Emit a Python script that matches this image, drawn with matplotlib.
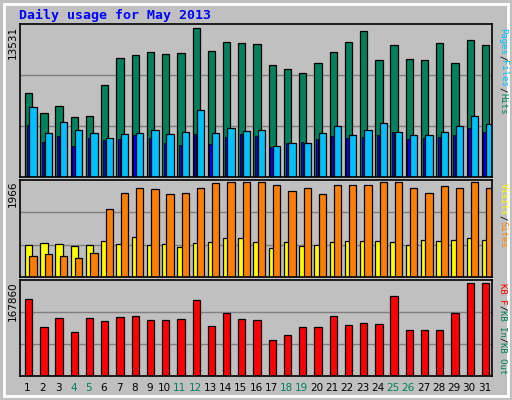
import matplotlib
matplotlib.use("Agg")
import matplotlib.pyplot as plt
import numpy as np

days = np.arange(1, 32)
weekend = [4, 5, 11, 12, 18, 19, 25, 26]

hits = [7640, 5800, 6443, 5431, 5523, 8376, 10862, 11138, 11414, 11230, 11322, 13531,
        11506, 12334, 12242, 12150, 10217, 9849, 9481, 10401, 11414, 12334, 13255, 10678,
        12058, 10770, 10678, 12242, 10401, 12518, 12058]
files = [6351, 4050, 4970, 4326, 4050, 3590, 3958, 4050, 4326, 3958, 4142, 6075,
         4050, 4418, 4234, 4326, 2854, 3130, 3130, 4050, 4602, 3866, 4326, 4878,
         4142, 3866, 3866, 4142, 4602, 5523, 4786]
pages = [4694, 3222, 3774, 2854, 3590, 3406, 3498, 3866, 3590, 3130, 2946, 3958,
         3038, 3682, 3958, 3774, 2762, 3130, 3222, 3498, 3774, 3590, 3682, 3866,
         4142, 3498, 3590, 3682, 3866, 4418, 4142]
sites = [423, 465, 423, 381, 486, 1395, 1712, 1818, 1797, 1691, 1712, 1818,
         1924, 1945, 1945, 1945, 1881, 1755, 1818, 1691, 1881, 1881, 1881, 1945,
         1945, 1818, 1712, 1860, 1818, 1945, 1818]
visits = [655, 698, 677, 634, 655, 740, 677, 824, 655, 677, 613, 698,
          719, 803, 803, 719, 592, 719, 634, 655, 719, 740, 740, 740,
          719, 655, 761, 740, 761, 803, 761]
kbytes = [135400, 86640, 102900, 77600, 102900, 97470, 104700, 106500, 99280, 99280,
          101100, 133600, 88450, 111900, 101100, 99280, 63180, 72200, 86640, 86640,
          106500, 90250, 93860, 92060, 140800, 81230, 81230, 81230, 111900, 164300, 164300]

BG = "#C0C0C0"
MONO = "DejaVu Sans Mono"
W, H = 512, 400

fig = plt.figure(figsize=(5.12, 4.0), dpi=100)
fig.patch.set_facecolor(BG)


def pax(x0, y0, x1, y1):
    return fig.add_axes([x0 / W, 1 - y1 / H, (x1 - x0) / W, (y1 - y0) / H])


# white inner frame
frame = pax(4, 4, 508, 396)
frame.set_facecolor(BG)
frame.set_xticks([]); frame.set_yticks([])
for s in frame.spines.values():
    s.set_color("white"); s.set_linewidth(2)
frame.set_zorder(-5)

fig.text(19 / W, 1 - 15 / H, "Daily usage for May 2013", color="#0000FF",
         fontsize=9.5, family=MONO, fontweight="bold", va="center")

panels = [(24, 177), (180, 277), (280, 376)]
axes = []
for y0, y1 in panels:
    ax = pax(20, y0, 492, y1)
    ax.set_facecolor(BG)
    ax.set_xlim(0.5, 31.5)
    ax.set_xticks([])
    ax.set_yticks([])
    for s in ax.spines.values():
        s.set_linewidth(1.2)
    axes.append(ax)

ek = dict(edgecolor="black", linewidth=0.9, align="edge")


def max_label(ax, txt):
    ax.text(-0.015, 0.99, txt, transform=ax.transAxes, rotation=90, ha="center",
            va="top", fontsize=7.5, family="DejaVu Sans")


# panel 1: hits / files / pages
ax = axes[0]
top = max(hits) * 1.03
ax.set_ylim(0, top)
for g in (top / 3, 2 * top / 3):
    ax.axhline(g, color="#808080", lw=1, zorder=0)
ax.bar(days - 0.17, hits, width=0.48, color="#00805C", **ek)
ax.bar(days - 0.06, pages, width=0.15, color="#0000FF", edgecolor="black", linewidth=0.6, align="edge")
ax.bar(days + 0.12, files, width=0.48, color="#00C0FF", **ek)
max_label(ax, "13531")

# panel 2: sites / visits
ax = axes[1]
top = max(sites) * 1.02
ax.set_ylim(0, top)
for g in (top / 3, 2 * top / 3):
    ax.axhline(g, color="#808080", lw=1, zorder=0)
ax.bar(days - 0.17, visits, width=0.48, color="#FFFF00", **ek)
ax.bar(days + 0.12, sites, width=0.48, color="#FF8000", **ek)
max_label(ax, "1966")

# panel 3: kbytes
ax = axes[2]
top = max(kbytes) * 1.03
ax.set_ylim(0, top)
for g in (top / 3, 2 * top / 3):
    ax.axhline(g, color="#808080", lw=1, zorder=0)
ax.bar(days - 0.17, kbytes, width=0.48, color="#FF0000", **ek)
max_label(ax, "167860")

# day labels
for d in days:
    ax.text(d, -0.12, str(d), transform=ax.get_xaxis_transform(), ha="center",
            va="center", fontsize=7.5, family="DejaVu Sans",
            color="#00805C" if d in weekend else "black")

# right side legends, rotated
def side_label(y_start, parts):
    y = y_start
    for txt, col in parts:
        fig.text(503 / W, 1 - y / H, txt, rotation=-90, color=col, fontsize=6.5,
                 family=MONO, ha="center", va="top")
        y += len(txt) * 5.4


side_label(28, [("Pages", "#00C0FF"), ("/", "black"), ("Files", "#00C0FF"),
                ("/", "black"), ("Hits", "#00805C")])
side_label(183, [("Visits", "#FFFF00"), ("/", "black"), ("Sites", "#FF8000")])
side_label(283, [("KB F", "#FF0000"), ("/", "black"), ("KB In", "#00805C"),
                 ("/", "black"), ("KB Out", "#00805C")])

fig.savefig("out.png", dpi=100, facecolor=BG)
